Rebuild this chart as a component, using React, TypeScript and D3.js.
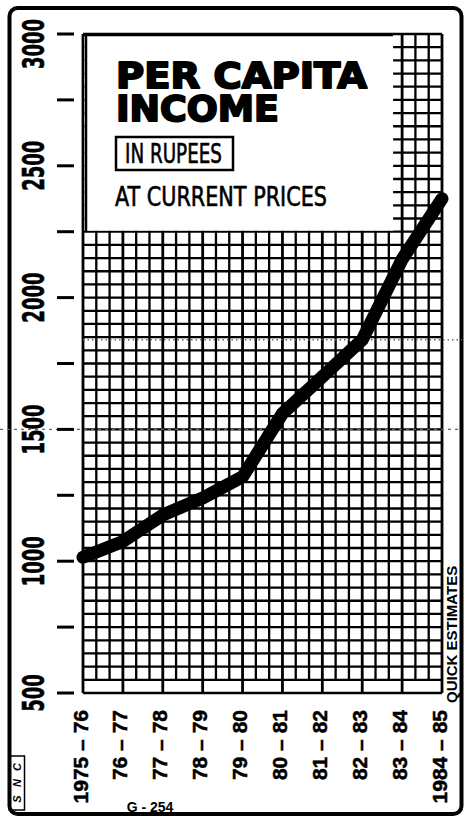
import React from 'react';
import * as d3 from 'd3';

// Per capita income in rupees, current prices
const years = ['1975 – 76', '76 – 77', '77 – 78', '78 – 79', '79 – 80', '80 – 81', '81 – 82', '82 – 83', '83 – 84', '1984 – 85'];
const income = [1015, 1075, 1175, 1240, 1320, 1560, 1700, 1840, 2145, 2375];
const yTickValues = [500, 750, 1000, 1250, 1500, 1750, 2000, 2250, 2500, 2750, 3000];
const yLabelValues = [500, 1000, 1500, 2000, 2500, 3000];
const refLines = [1500, 1840];

const W = 466;
const H = 817;

const narrow = '"Liberation Sans Narrow", "DejaVu Sans Condensed", "Liberation Sans", sans-serif';
const sans = '"Liberation Sans", Arial, sans-serif';

const App = () => {
  const x = d3.scalePoint<string>().domain(years).range([83, 442]);
  const y = d3.scaleLinear().domain([500, 3000]).range([693, 34]);

  const x0 = x.range()[0];
  const x1 = x.range()[1];
  const sub = x.step() / 3; // three columns per year
  const cols = d3.range(0, (years.length - 1) * 3 + 1).map(i => x0 + i * sub);
  const rows = d3.range(550, 3001, 50);

  const line = d3.line<number>()
    .x((_, i) => x(years[i]) as number)
    .y(d => y(d));

  const boxRight = x0 + 24 * sub - 9;

  return (
    <div style={{ position: 'absolute', left: 0, top: 0 }}>
      <svg width={W} height={H} style={{ display: 'block', background: '#fff' }}>
        {/* outer frame */}
        <rect x={9.5} y={8} width={452} height={806} rx={8} fill="none" stroke="#000" strokeWidth={4} />

        {/* grid */}
        <g stroke="#000">
          {rows.map(v => (
            <line key={'r' + v} x1={x0} x2={x1} y1={y(v)} y2={y(v)} strokeWidth={2.3} />
          ))}
          <line x1={x0} x2={x1} y1={y(500)} y2={y(500)} strokeWidth={2.6} />
          {cols.map((c, i) => (
            <line key={'c' + i} x1={c} x2={c}
              y1={i % 3 === 0 ? y(500) : y(550)} y2={y(3000)}
              strokeWidth={i % 3 === 0 ? 2.8 : 2.3} />
          ))}
        </g>

        {/* reference (fold) lines */}
        {refLines.map((v, i) => (
          <line key={'ref' + v} x1={i === 0 ? 0 : x0} x2={462} y1={y(v)} y2={y(v)}
            stroke="#666" strokeWidth={1.4} strokeDasharray={i === 0 ? '3 4' : '1.5 3'} />
        ))}

        {/* title box */}
        <rect x={x0 + 1.5} y={y(3000) + 1.5} width={boxRight - x0 - 1.5} height={y(2250) - y(3000) - 2.5} fill="#fff" />
        <line x1={x0 + 3} x2={x0 + 3} y1={y(3000)} y2={y(2250)} stroke="#000" strokeWidth={2.5} />
        <line x1={x0} x2={boxRight} y1={y(3000) + 1} y2={y(3000) + 1} stroke="#000" strokeWidth={2.5} />

        <text fontFamily={'"DejaVu Sans", sans-serif'} fontWeight="bold" fontSize={36}
          stroke="#000" strokeWidth={2} strokeLinejoin="round">
          <tspan x={116} y={88} textLength={251} lengthAdjust="spacingAndGlyphs">PER CAPITA</tspan>
          <tspan x={116} y={121} textLength={163} lengthAdjust="spacingAndGlyphs">INCOME</tspan>
        </text>

        <rect x={116} y={137} width={117} height={33} fill="none" stroke="#000" strokeWidth={2.5} />
        <text x={125} y={163} fontFamily={narrow} fontSize={27} textLength={97}
          lengthAdjust="spacingAndGlyphs" stroke="#000" strokeWidth={0.6}>IN RUPEES</text>
        <text x={115} y={206} fontFamily={narrow} fontSize={27} textLength={212}
          lengthAdjust="spacingAndGlyphs" stroke="#000" strokeWidth={0.6}>AT CURRENT PRICES</text>

        {/* y axis */}
        {yTickValues.map(v => (
          <line key={'t' + v} x1={57} x2={74} y1={y(v)} y2={y(v)} stroke="#000" strokeWidth={3} />
        ))}
        {yLabelValues.map(v => {
          const cy = v === 3000 ? y(v) + 10 : y(v);
          return (
            <text key={'yl' + v} transform={`translate(34,${cy}) rotate(-90) scale(0.9,1.5)`} textAnchor="middle"
              dominantBaseline="central" fontFamily={'"DejaVu Sans", sans-serif'} fontWeight="bold" fontSize={20}
              stroke="#000" strokeWidth={0.4}>{v}</text>
          );
        })}

        {/* x axis labels */}
        {years.map(yr => (
          <text key={yr} transform={`translate(${(x(yr) as number) - 3},710) rotate(-90)`} textAnchor="end"
            dominantBaseline="central" fontFamily={sans} fontWeight="bold" fontSize={21}
            stroke="#000" strokeWidth={0.5}>{yr}</text>
        ))}

        {/* data line */}
        <path d={line(income) || ''} fill="none" stroke="#000" strokeWidth={13}
          strokeLinecap="round" strokeLinejoin="round" />

        {/* notes */}
        <text transform="translate(451,703) rotate(-90)" dominantBaseline="central"
          fontFamily={sans} fontWeight="bold" fontSize={15}>QUICK ESTIMATES</text>
        <text x={150} y={812} textAnchor="middle" fontFamily={sans} fontWeight="bold" fontSize={14}>G - 254</text>

        <rect x={9.5} y={756} width={15} height={54} fill="none" stroke="#000" strokeWidth={1.5} />
        {['C', 'N', 'S'].map((ch, i) => (
          <text key={ch} transform={`translate(17,${767 + i * 16}) rotate(-90)`} textAnchor="middle"
            dominantBaseline="central" fontFamily={sans} fontWeight="bold" fontStyle="italic" fontSize={11}>{ch}</text>
        ))}
      </svg>
    </div>
  );
};

export default App;
